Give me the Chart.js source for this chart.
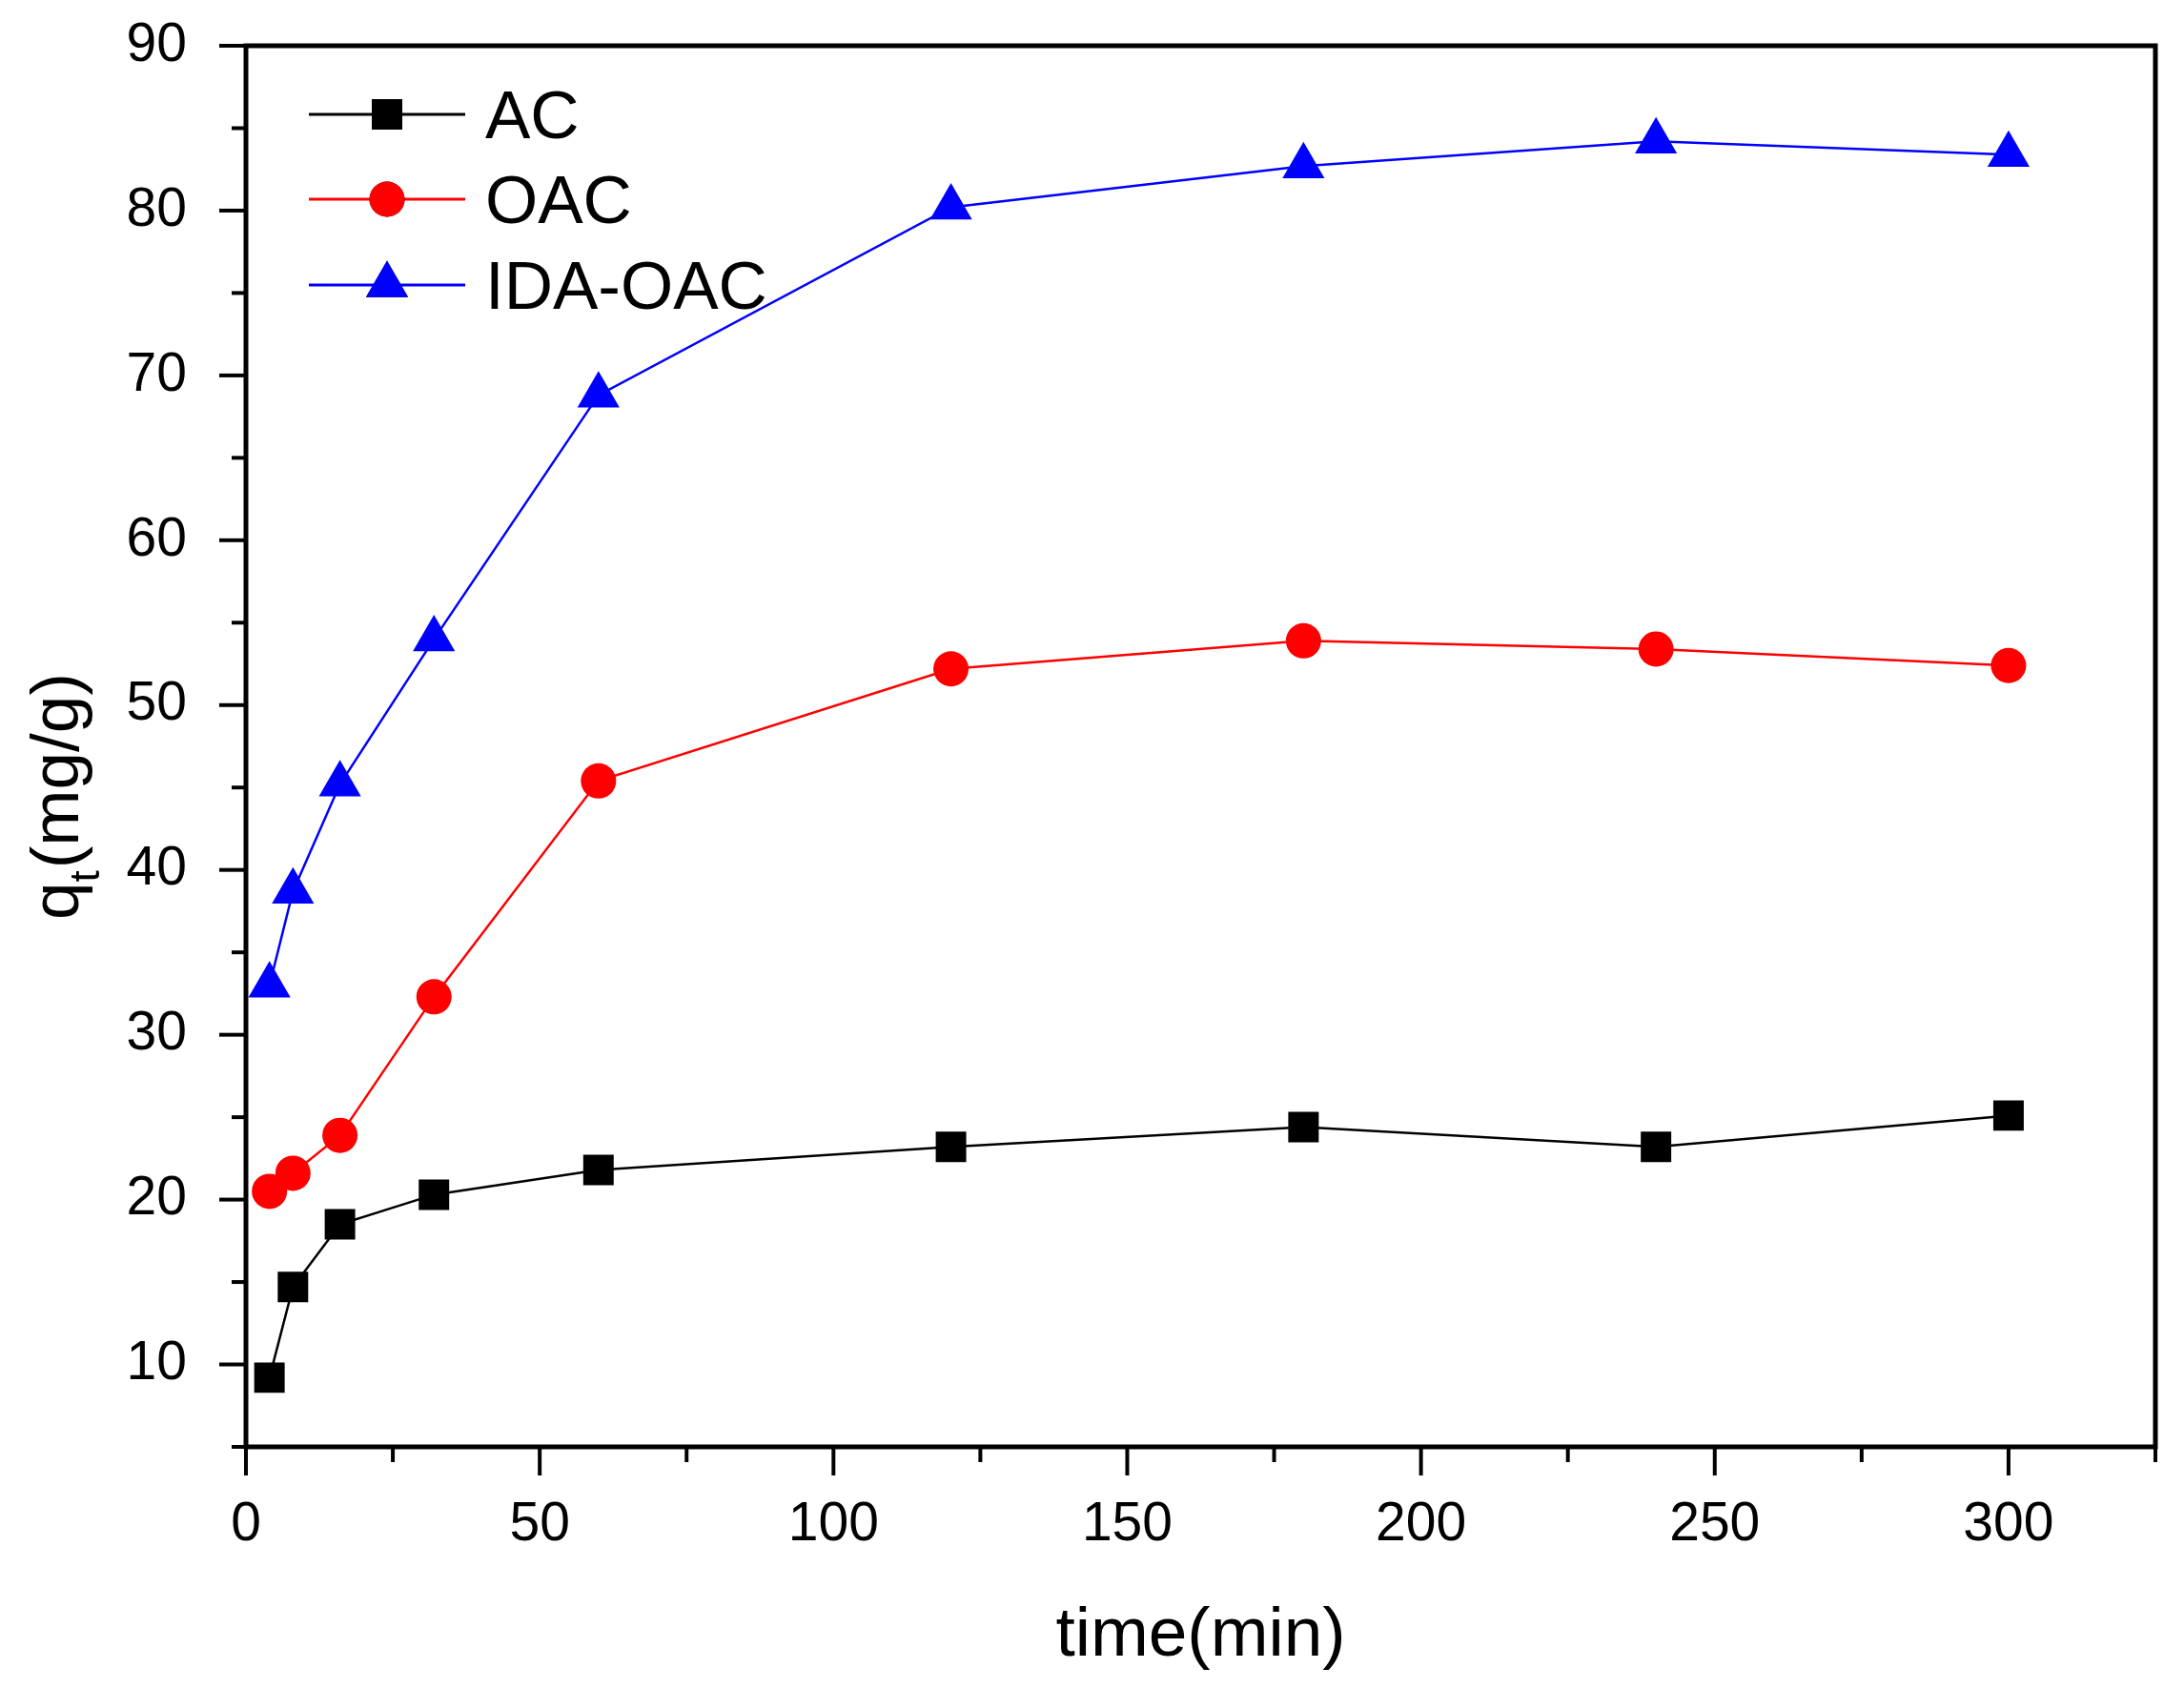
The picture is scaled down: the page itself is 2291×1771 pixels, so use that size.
<!DOCTYPE html>
<html>
<head>
<meta charset="utf-8">
<script src="https://cdn.jsdelivr.net/npm/chart.js@4.4.1/dist/chart.umd.min.js"></script>
<style>
  html, body { margin: 0; padding: 0; background: #fff; }
  #wrap { width: 2291px; height: 1771px; }
</style>
</head>
<body>
<div id="wrap"><canvas id="kinetics" width="2291" height="1771"></canvas></div>
<script>
// contact time (min)
const times = [4, 8, 16, 32, 60, 120, 180, 240, 300];

// adsorption capacity qt (mg/g)
const acValues = [9.2, 14.7, 18.5, 20.3, 21.8, 23.2, 24.4, 23.2, 25.1];
const oacValues = [20.5, 21.6, 23.9, 32.3, 45.4, 52.2, 53.9, 53.4, 52.4];
const idaOacValues = [33.0, 38.7, 45.2, 54.0, 68.8, 80.2, 82.7, 84.2, 83.4];

const seriesNames = ["AC", "OAC", "IDA-OAC"];

// axis ticks
const xTicks = [0, 50, 100, 150, 200, 250, 300];
const yTicks = [10, 20, 30, 40, 50, 60, 70, 80, 90];

const FONT = "'Liberation Sans', Arial, sans-serif";

function toPoints(values) {
  return times.map((t, i) => ({ x: t, y: values[i] }));
}

// Origin-like frame, ticks, titles and legend
const framePlugin = {
  id: "frame",
  afterDraw(chart) {
    const ctx = chart.ctx;
    const area = chart.chartArea;
    const xs = chart.scales.x;
    const ys = chart.scales.y;
    ctx.save();

    // axis box
    ctx.strokeStyle = "#000";
    ctx.lineWidth = 5;
    ctx.strokeRect(area.left, area.top, area.right - area.left, area.bottom - area.top);

    // y ticks (major every 10, minor every 5)
    ctx.lineWidth = 4;
    for (let v = ys.min; v <= ys.max; v += 5) {
      const py = ys.getPixelForValue(v);
      const len = v % 10 === 0 ? 28 : 15;
      ctx.beginPath();
      ctx.moveTo(area.left, py);
      ctx.lineTo(area.left - len, py);
      ctx.stroke();
    }
    // x ticks (major every 50, minor every 25)
    for (let v = xs.min; v <= xs.max; v += 25) {
      const px = xs.getPixelForValue(v);
      const len = v % 50 === 0 ? 30 : 16;
      ctx.beginPath();
      ctx.moveTo(px, area.bottom);
      ctx.lineTo(px, area.bottom + len);
      ctx.stroke();
    }

    // x title
    ctx.fillStyle = "#000";
    ctx.font = "73px " + FONT;
    ctx.textAlign = "center";
    ctx.textBaseline = "alphabetic";
    ctx.fillText("time(min)", (area.left + area.right) / 2, 1737);

    // y title with subscript
    ctx.save();
    ctx.translate(82, 965);
    ctx.rotate(-Math.PI / 2);
    ctx.textAlign = "left";
    ctx.font = "71px " + FONT;
    ctx.fillText("q", 0, 0);
    let w = ctx.measureText("q").width;
    ctx.font = "44px " + FONT;
    ctx.fillText("t", w, 22);
    w += ctx.measureText("t").width + 2;
    ctx.font = "71px " + FONT;
    ctx.fillText("(mg/g)", w, 0);
    ctx.restore();

    // legend
    const rows = [120, 209, 299];
    chart.data.datasets.forEach((ds, i) => {
      const y = rows[i];
      ctx.strokeStyle = ds.borderColor;
      ctx.lineWidth = 3;
      ctx.beginPath();
      ctx.moveTo(324, y);
      ctx.lineTo(488, y);
      ctx.stroke();
      Chart.helpers.drawPoint(ctx, {
        pointStyle: ds.pointStyle,
        radius: ds.pointRadius,
        borderWidth: 0,
        rotation: 0
      }, 406, y);
      ctx.fillStyle = ds.pointBackgroundColor;
      ctx.fill();
      ctx.fillStyle = "#000";
      ctx.font = "71px " + FONT;
      ctx.textAlign = "left";
      ctx.textBaseline = "alphabetic";
      ctx.fillText(ds.label, 509, y + 25);
    });

    ctx.restore();
  }
};

new Chart(document.getElementById("kinetics"), {
  type: "line",
  data: {
    datasets: [
      {
        label: seriesNames[0],
        data: toPoints(acValues),
        borderColor: "#000000",
        borderWidth: 2.5,
        pointStyle: "rect",
        pointRadius: 22.6,
        pointBackgroundColor: "#000000",
        pointBorderWidth: 0
      },
      {
        label: seriesNames[1],
        data: toPoints(oacValues),
        borderColor: "#ff0000",
        borderWidth: 2.5,
        pointStyle: "circle",
        pointRadius: 18.5,
        pointBackgroundColor: "#ff0000",
        pointBorderWidth: 0
      },
      {
        label: seriesNames[2],
        data: toPoints(idaOacValues),
        borderColor: "#0000ff",
        borderWidth: 2.5,
        pointStyle: "triangle",
        pointRadius: 25.5,
        pointBackgroundColor: "#0000ff",
        pointBorderWidth: 0
      }
    ]
  },
  options: {
    responsive: false,
    animation: false,
    devicePixelRatio: 1,
    clip: false,
    layout: { padding: { left: 0, top: 48, right: 30, bottom: 0 } },
    plugins: {
      legend: { display: false },
      tooltip: { enabled: false }
    },
    scales: {
      x: {
        type: "linear",
        min: 0,
        max: 325,
        afterFit: (scale) => {
          scale.height = 253;
          scale.paddingLeft = 0;
          scale.paddingRight = 0;
        },
        afterBuildTicks: (scale) => {
          scale.ticks = xTicks.map((v) => ({ value: v }));
        },
        grid: { display: false },
        border: { display: false },
        ticks: {
          autoSkip: false,
          maxRotation: 0,
          padding: 40,
          color: "#000",
          font: { family: FONT, size: 57 }
        }
      },
      y: {
        type: "linear",
        min: 5,
        max: 90,
        afterFit: (scale) => {
          scale.width = 258;
          scale.paddingTop = 0;
          scale.paddingBottom = 0;
        },
        afterBuildTicks: (scale) => {
          scale.ticks = yTicks.map((v) => ({ value: v }));
        },
        grid: { display: false },
        border: { display: false },
        ticks: {
          autoSkip: false,
          padding: 54,
          color: "#000",
          font: { family: FONT, size: 57 }
        }
      }
    }
  },
  plugins: [framePlugin]
});
</script>
</body>
</html>
